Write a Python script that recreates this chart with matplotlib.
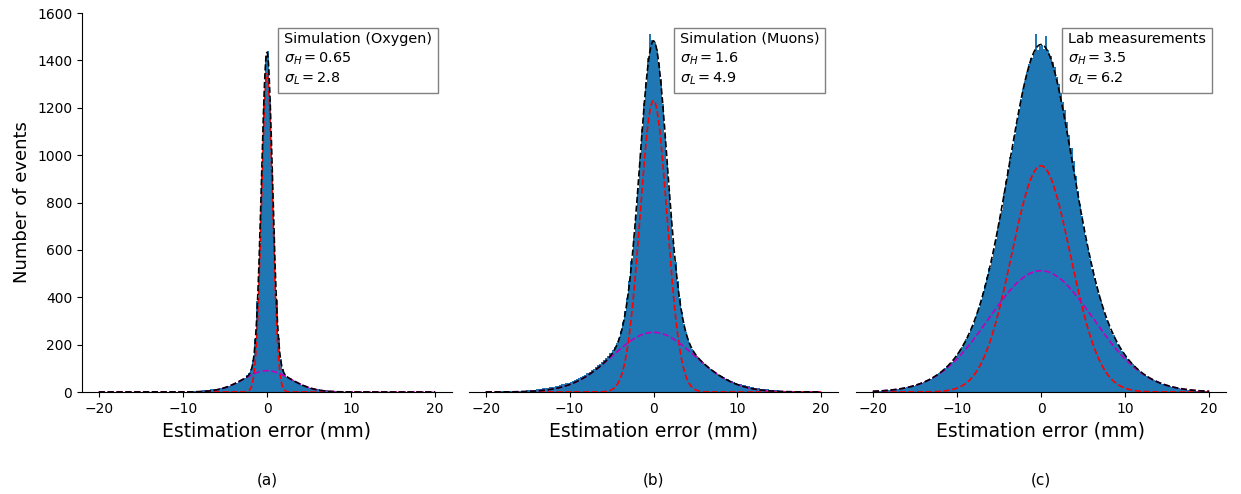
import numpy as np
import matplotlib.pyplot as plt

# histogram bins (mm)
edges = np.linspace(-20, 20, 161)
centers = (edges[:-1] + edges[1:]) / 2

# event counts per bin (left half, then right half)
counts_a = [0, 0, 0, 0, 0, 0, 0, 0, 0, 0,
            0, 0, 0, 0, 0, 0, 0, 0, 0, 0,
            0, 0, 0, 0, 0, 0, 0, 0, 1, 0,
            0, 1, 0, 1, 1, 1, 1, 1, 1, 2,
            2, 2, 3, 3, 4, 4, 5, 6, 6, 7,
            8, 9, 10, 11, 12, 13, 14, 15, 17, 19,
            21, 24, 27, 31, 35, 39, 44, 49, 54, 60,
            72, 82, 96, 135, 225, 385, 630, 935, 1235, 1420,
            1440, 1230, 940, 680, 390, 228, 138, 95, 74, 64,
            59, 54, 49, 45, 40, 36, 31, 28, 24, 21,
            18, 16, 14, 12, 11, 10, 9, 8, 7, 6,
            5, 4, 3, 3, 2, 2, 2, 1, 1, 1,
            1, 1, 1, 0, 1, 0, 0, 1, 0, 0,
            0, 0, 0, 0, 0, 0, 0, 0, 0, 0,
            0, 0, 0, 0, 0, 0, 0, 0, 0, 0,
            0, 0, 0, 0, 0, 0, 0, 0, 0, 0]

counts_b = [1, 1, 2, 1, 2, 2, 2, 3, 2, 3,
            3, 4, 3, 4, 4, 5, 5, 6, 6, 7,
            8, 8, 9, 10, 11, 12, 13, 15, 16, 17,
            19, 20, 22, 24, 27, 29, 32, 34, 37, 40,
            43, 46, 50, 54, 58, 63, 68, 73, 79, 86,
            92, 98, 104, 112, 118, 126, 133, 142, 152, 164,
            176, 190, 207, 230, 258, 295, 340, 398, 470, 552,
            650, 748, 862, 985, 1110, 1220, 1310, 1410, 1510, 1485,
            1478, 1450, 1390, 1320, 1215, 1090, 975, 858, 752, 640,
            548, 468, 395, 338, 288, 255, 222, 202, 180, 170,
            153, 145, 131, 126, 115, 111, 101, 97, 88, 85,
            77, 73, 66, 63, 56, 54, 48, 46, 41, 40,
            35, 34, 29, 29, 25, 24, 21, 20, 18, 17,
            15, 14, 13, 12, 11, 10, 9, 8, 8, 7,
            6, 6, 5, 5, 4, 4, 4, 3, 3, 3,
            3, 2, 2, 2, 2, 2, 1, 1, 1, 1]

counts_c = [3, 3, 4, 4, 5, 5, 6, 7, 8, 9,
            10, 11, 13, 14, 16, 17, 19, 22, 24, 27,
            29, 32, 35, 39, 43, 47, 51, 56, 61, 67,
            73, 79, 86, 93, 101, 109, 118, 128, 139, 151,
            163, 176, 190, 206, 222, 240, 260, 282, 305, 330,
            357, 386, 417, 450, 485, 522, 562, 604, 648, 694,
            740, 770, 838, 890, 940, 990, 1040, 1090, 1140, 1190,
            1235, 1280, 1315, 1350, 1385, 1410, 1432, 1510, 1445, 1460,
            1465, 1450, 1505, 1445, 1420, 1395, 1370, 1330, 1300, 1262,
            1225, 1190, 1140, 1085, 1030, 975, 910, 850, 795, 742,
            695, 648, 604, 560, 520, 482, 447, 414, 383, 355,
            328, 303, 281, 259, 239, 220, 204, 189, 174, 161,
            150, 138, 127, 117, 108, 100, 92, 85, 78, 72,
            66, 60, 55, 50, 46, 42, 38, 35, 32, 29,
            26, 24, 21, 19, 17, 16, 14, 13, 11, 10,
            9, 8, 7, 6, 6, 5, 4, 4, 3, 3]

# double gaussian fit parameters
amp_h = [1345, 1230, 955]
sigma_h = [0.65, 1.6, 3.5]
amp_l = [90, 252, 512]
sigma_l = [2.8, 4.9, 6.2]

titles = ["Simulation (Oxygen)", "Simulation (Muons)", "Lab measurements"]
tags = ["(a)", "(b)", "(c)"]
sigma_h_txt = ["0.65", "1.6", "3.5"]
sigma_l_txt = ["2.8", "4.9", "6.2"]


def gauss(x, a, s):
    return a * np.exp(-x ** 2 / (2 * s ** 2))


fig = plt.figure(figsize=(12.41, 4.94), dpi=100)
W, H = 1241, 494
boxes = [(82, 452), (469, 838), (856, 1226)]
text_x = [0.546, 0.572, 0.573]
all_counts = [counts_a, counts_b, counts_c]

xs = np.linspace(-20, 20, 600)
axes = []
for i in range(3):
    x0, x1 = boxes[i]
    ax = fig.add_axes([x0 / W, 1 - 392 / H, (x1 - x0) / W, 379 / H])
    axes.append(ax)
    ax.hist(centers, bins=edges, weights=all_counts[i], color='C0')
    gh = gauss(xs, amp_h[i], sigma_h[i])
    gl = gauss(xs, amp_l[i], sigma_l[i])
    ax.plot(xs, gh, 'r--', lw=1.2)
    ax.plot(xs, gl, 'm--', lw=1.2)
    ax.plot(xs, gh + gl, 'k--', lw=1.2)
    ax.set_xlim(-22, 22)
    ax.set_ylim(0, 1600)
    ax.set_xticks([-20, -10, 0, 10, 20])
    ax.set_xlabel("Estimation error (mm)", fontsize=13.5)
    ax.spines['top'].set_visible(False)
    ax.spines['right'].set_visible(False)
    if i > 0:
        ax.spines['left'].set_visible(False)
        ax.set_yticks([])
    label = (titles[i] + "\n" + r"$\sigma_H = " + sigma_h_txt[i] + "$\n"
             + r"$\sigma_L = " + sigma_l_txt[i] + "$")
    ax.text(text_x[i], 0.95, label, transform=ax.transAxes, fontsize=10.4,
            va='top', ha='left', linespacing=1.35,
            bbox=dict(boxstyle='square,pad=0.4', facecolor='white',
                      edgecolor='gray'))
    fig.text((x0 + x1) / 2 / W, 1 - 480 / H, tags[i], ha='center',
             va='center', fontsize=11)

axes[0].set_ylabel("Number of events", fontsize=13)

fig.savefig('out.png', dpi=100)
